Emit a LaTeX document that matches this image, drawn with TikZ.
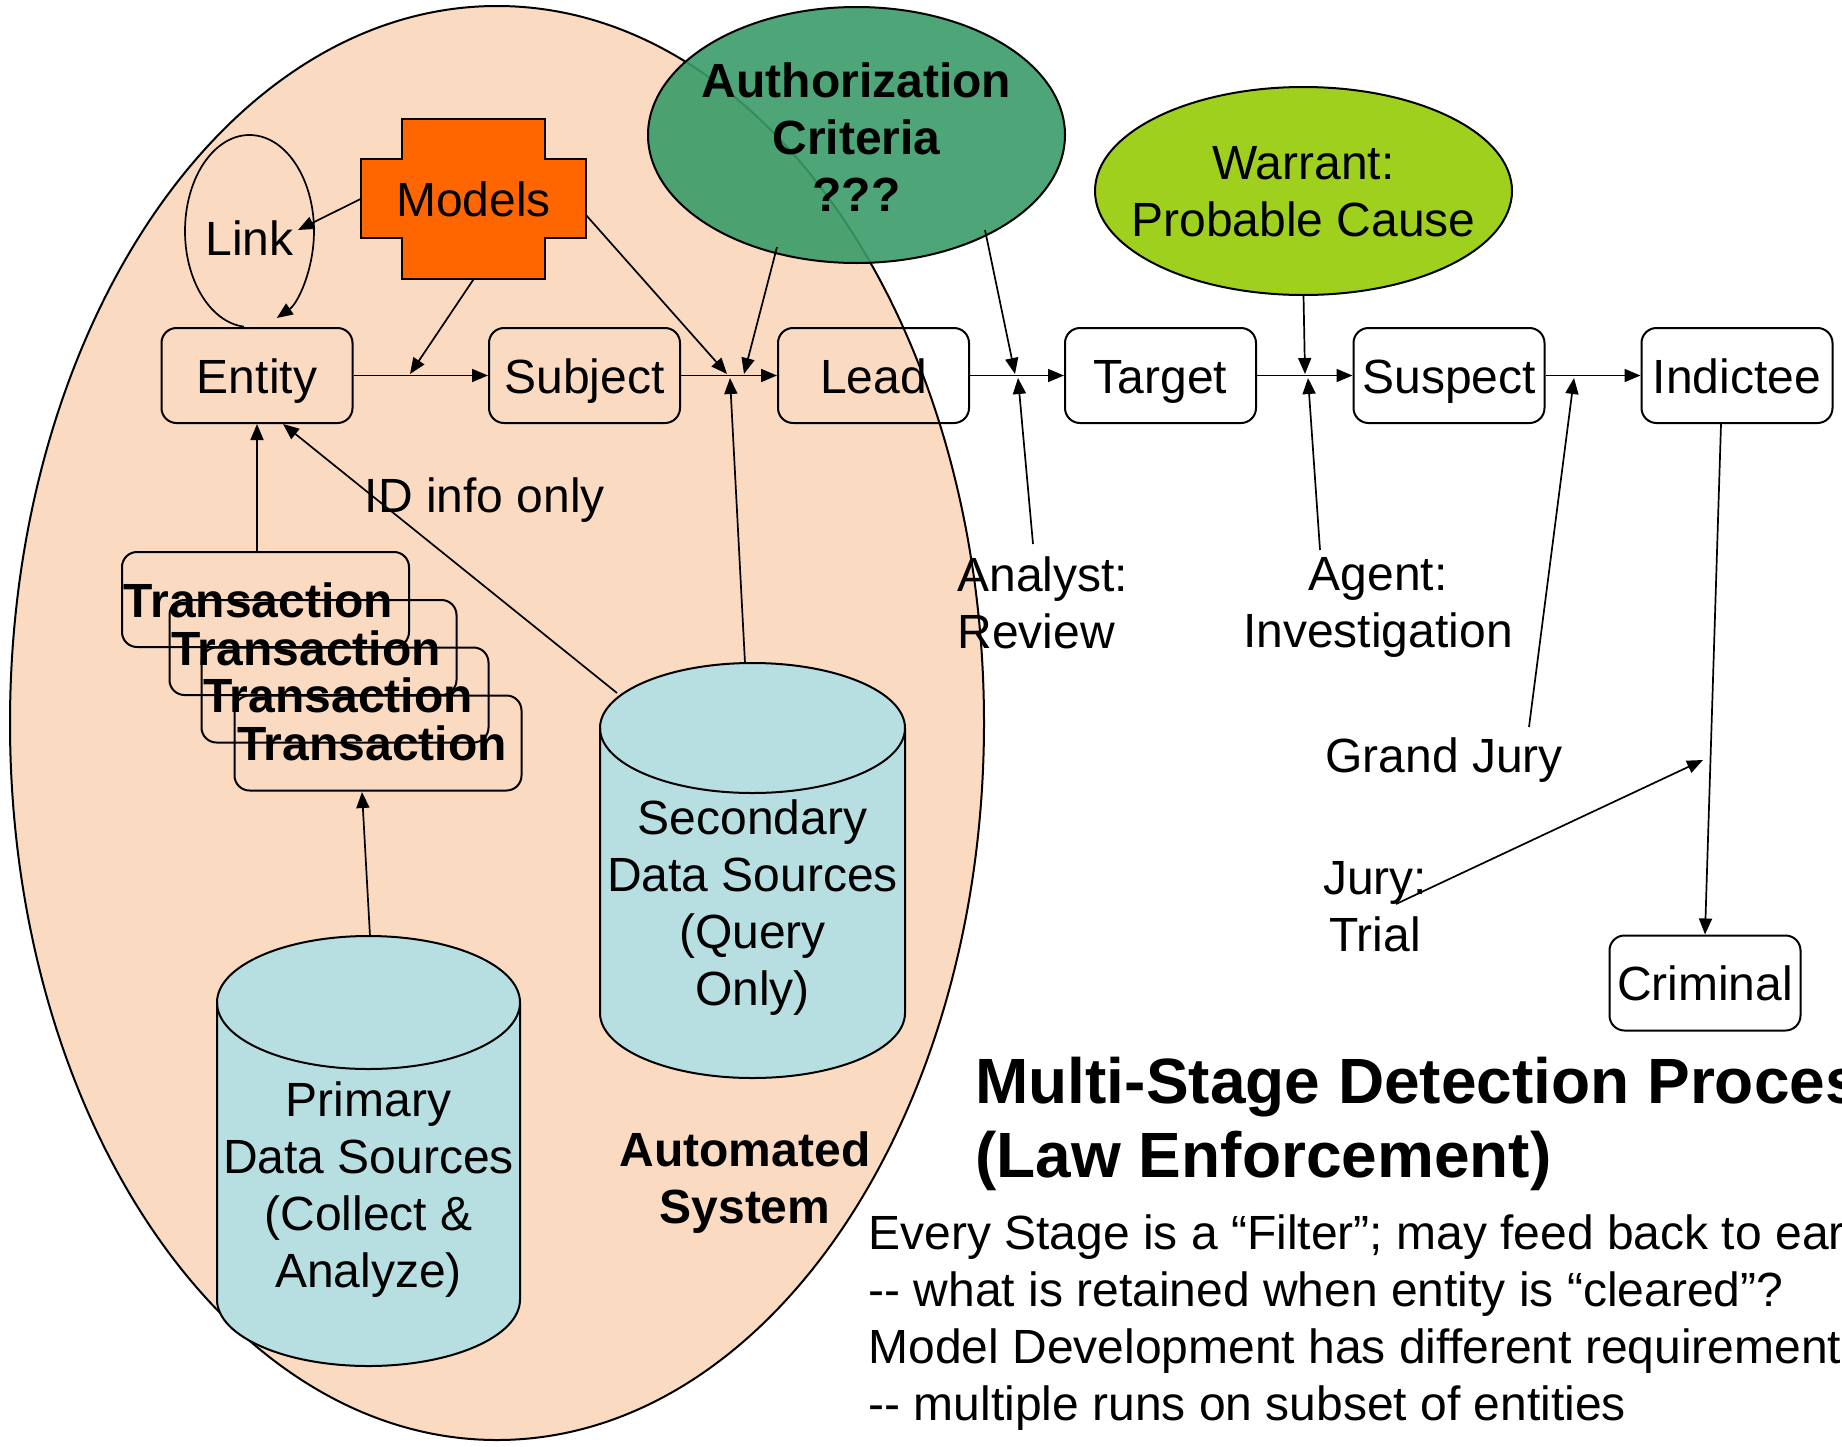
\documentclass[tikz,border=0pt]{standalone}
\usepackage{fontspec}
\setmainfont{Liberation Sans}
\usetikzlibrary{arrows.meta,shapes.geometric,calc}
\definecolor{peach}{RGB}{251,218,194}
\definecolor{cylblue}{RGB}{183,222,225}
\definecolor{modelorange}{RGB}{255,102,0}
\definecolor{authgreen}{RGB}{58,155,105}
\definecolor{warrantgreen}{RGB}{160,208,30}
\newcommand{\dgfont}{\fontsize{24}{28.5}\selectfont}
\newcommand{\dgbold}{\fontsize{24}{28.5}\selectfont\bfseries}
\newcommand{\dgtitle}{\fontsize{32}{37}\selectfont\bfseries}
\begin{document}
\begin{tikzpicture}[x=0.5pt,y=-0.5pt,
  stage/.style={draw, line width=1pt, rounded corners=7.5pt, minimum width=95.5pt,
    minimum height=47.5pt, inner sep=0pt, font=\dgfont, text height=17.5pt, text depth=0pt},
  txbox/.style={draw, line width=1pt, rounded corners=7.5pt, minimum width=143.5pt,
    minimum height=47.5pt, inner sep=0pt},
  txtext/.style={inner sep=0pt, font=\dgbold, text height=17.5pt, text depth=0pt},
  arr/.style={line width=0.85pt, -{Triangle[length=8pt,width=6.5pt]}},
  note/.style={inner sep=0pt, font=\dgfont},
  outline/.style={line width=1pt},
]
\useasboundingbox (0,0) rectangle (1842,1446);

% automated system region
\draw[outline, fill=peach] (497,723) ellipse [x radius=487, y radius=717];

% authorization criteria
\path[outline, draw, fill=authgreen, fill opacity=0.9] (856.5,135) ellipse [x radius=208.5, y radius=128];
\node[note, font=\dgbold, align=center, anchor=north] (auth) at (856.5,62) {Authorization\\Criteria\\???};

% warrant
\path[outline, draw, fill=warrantgreen] (1303.5,191) ellipse [x radius=208.5, y radius=104];
\node[note, align=center, anchor=north] (warrant) at (1303.5,146) {Warrant:\\Probable Cause};
\coordinate (warrantbottom) at (1303.5,295);

% secondary data sources cylinder
\path[fill=cylblue] (600,728) -- (600,1013) arc[start angle=180, end angle=0, x radius=152.5, y radius=65]
  -- (905,728) arc[start angle=0, end angle=-180, x radius=152.5, y radius=65] -- cycle;
\draw[outline] (600,728) -- (600,1013) arc[start angle=180, end angle=0, x radius=152.5, y radius=65] -- (905,728);
\draw[outline] (752.5,728) ellipse [x radius=152.5, y radius=65];
\node[note, align=center, anchor=north] (sectext) at (752.5,799) {Secondary\\Data Sources\\(Query\\Only)};

% primary data sources cylinder
\path[fill=cylblue] (217,1002.5) -- (217,1299.5) arc[start angle=180, end angle=0, x radius=151.5, y radius=66.5]
  -- (520,1002.5) arc[start angle=0, end angle=-180, x radius=151.5, y radius=66.5] -- cycle;
\draw[outline] (217,1002.5) -- (217,1299.5) arc[start angle=180, end angle=0, x radius=151.5, y radius=66.5] -- (520,1002.5);
\draw[outline] (368.5,1002.5) ellipse [x radius=151.5, y radius=66.5];
\node[note, align=center, anchor=north] (pritext) at (368.5,1081) {Primary\\Data Sources\\(Collect \&\\Analyze)};

\node[note, font=\dgbold, align=center, anchor=north] (auto) at (745,1131) {Automated\\System};

% models
\draw[outline, fill=modelorange] (402,119) -- (545,119) -- (545,159) -- (586,159) -- (586,238)
  -- (545,238) -- (545,279) -- (402,279) -- (402,238) -- (361,238) -- (361,159) -- (402,159) -- cycle;
\node[inner sep=0pt, minimum width=112.5pt, minimum height=80pt, font=\dgfont,
  text height=17.5pt, text depth=0pt] (models) at (473.5,199) {Models};

% link
\node[inner sep=0pt, minimum width=64.5pt, minimum height=96pt, font=\dgfont,
  text height=17.5pt, text depth=0pt] (link) at (249.5,231) {\raisebox{-3.25pt}{Link}};

% stages
\node[stage] (entity)   at (257,375.5)    {Entity};
\node[stage] (subject)  at (584.5,375.5)  {Subject};
\node[stage] (lead)     at (873.5,375.5)  {Lead};
\node[stage] (target)   at (1160.5,375.5) {Target};
\node[stage] (suspect)  at (1449,375.5)   {Suspect};
\node[stage] (indictee) at (1737,375.5)   {Indictee};
\node[stage] (criminal) at (1705,983)     {Criminal};

% transactions
\node[txbox] (t1) at (265.5,599.5) {};
\node[txtext] at ([xshift=-3.5pt]t1.center) {Transaction};
\node[txbox] (t2) at (313,647.5) {};
\node[txtext] at ([xshift=-3.5pt]t2.center) {Transaction};
\node[txbox] (t3) at (345,695) {};
\node[txtext] at ([xshift=-3.5pt]t3.center) {Transaction};
\node[txbox] (t4) at (378,743) {};
\node[txtext] at ([xshift=-3pt]t4.center) {Transaction};

% labels
\node[note, anchor=base] (idinfo) at (485,512) {ID info only};
\node[note, align=left, anchor=north west] (analyst) at (957,556) {Analyst:\\Review};
\node[note, align=center, anchor=north] (agent) at (1378,557) {Agent:\\Investigation};
\node[note, anchor=base west] (grand) at (1325,772) {Grand Jury};
\node[note, align=center, anchor=north] (jury) at (1375,861) {Jury:\\Trial};

% connector end points
\coordinate (linkin) at (298,230);
\coordinate (j1) at (410,374);
\coordinate (mright) at (586,215);
\coordinate (j2a) at (727,374);
\coordinate (authleft) at (777,247);
\coordinate (j2b) at (744,374);
\coordinate (sectop) at (745,663);
\coordinate (j2c) at (730,378);
\coordinate (authright) at (985,230);
\coordinate (j3a) at (1015,374);
\coordinate (analystup) at (1033,544);
\coordinate (j3b) at (1018,378);
\coordinate (j4a) at (1305,374);
\coordinate (agentup) at (1320,550);
\coordinate (j4b) at (1308,378);
\coordinate (grandup) at (1529,727);
\coordinate (j5) at (1574,378);
\coordinate (indout) at (1721,424);
\coordinate (juryout) at (1396,904);
\coordinate (j6) at (1703,760);
\coordinate (secleft) at (617,693);
\coordinate (entin) at (283,424);
\coordinate (pritop) at (370,936);
\coordinate (t4in) at (362,792);

% connectors
\draw[arr] ([shift={(95:64.5 and 96)}]link.center) arc[start angle=95, end angle=425, x radius=64.5, y radius=96];
\draw[arr] (models.west) -- (linkin);
\draw[arr] (models.south) -- (j1);
\draw[arr] (entity) -- (subject);
\draw[arr] (subject) -- (lead);
\draw[arr] (mright) -- (j2a);
\draw[arr] (authleft) -- (j2b);
\draw[arr] (sectop) -- (j2c);
\draw[arr] (lead) -- (target);
\draw[arr] (authright) -- (j3a);
\draw[arr] (analystup) -- (j3b);
\draw[arr] (target) -- (suspect);
\draw[arr] (warrantbottom) -- (j4a);
\draw[arr] (agentup) -- (j4b);
\draw[arr] (suspect) -- (indictee);
\draw[arr] (grandup) -- (j5);
\draw[arr] (indout) -- (criminal.north);
\draw[arr] (juryout) -- (j6);
\draw[arr] (entity.south |- t1.north) -- (entity.south);
\draw[arr] (secleft) -- (entin);
\draw[arr] (pritop) -- (t4in);

% heading and notes
\begin{scope}
\clip (0,0) rectangle (1842,1446);
\node[inner sep=0pt, anchor=north west, align=left, font=\dgtitle] (title) at (975,1057)
  {Multi-Stage Detection Process\\(Law Enforcement)};
\node[note, anchor=north west, align=left] (notes) at (868,1214)
  {Every Stage is a “Filter”; may feed back to earlier\\
   -\kern0pt- what is retained when entity is “cleared”?\\
   Model Development has different requirements\\
   -\kern0pt- multiple runs on subset of entities};
\end{scope}
\end{tikzpicture}
\end{document}
